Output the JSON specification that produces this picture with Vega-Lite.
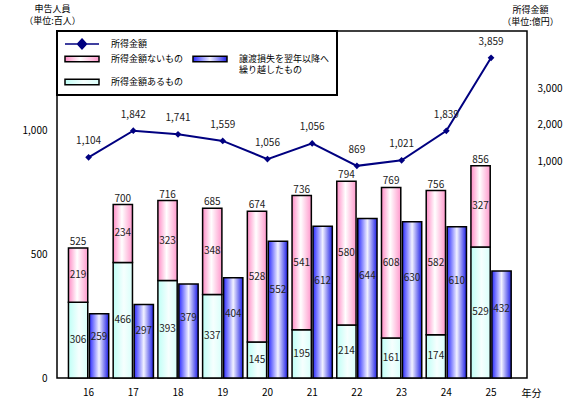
{
  "$schema": "https://vega.github.io/schema/vega-lite/v6.json",
  "width": 470,
  "height": 347,
  "autosize": {"type": "none"},
  "padding": {"left": 57, "top": 31, "right": 53, "bottom": 37},
  "background": "white",
  "config": {
    "font": "Noto Sans CJK JP",
    "view": {"stroke": "black", "strokeWidth": 1.5},
    "axis": {"grid": false, "ticks": false, "domain": false, "labelFontSize": 10, "labelColor": "black", "titleFontWeight": "normal", "titleColor": "black", "titleFontSize": 9, "titleLineHeight": 12},
    "legend": {"orient": "top-left", "offset": 0, "padding": 7, "strokeColor": "black", "strokeWidth": 2, "fillColor": "white", "columns": 2, "columnPadding": 6, "rowPadding": 1, "labelFontSize": 9, "labelOffset": 35, "labelLimit": 300, "labelColor": "black", "symbolSize": 100, "symbolStrokeWidth": 1.5}
  },
  "datasets": {
    "bars": [
      {"year": 16, "group": "A", "series": "所得金額あるもの", "value": 306},
      {"year": 16, "group": "A", "series": "所得金額ないもの", "value": 219},
      {"year": 16, "group": "B", "series": "譲渡損失を翌年以降へ繰り越したもの", "value": 259},
      {"year": 17, "group": "A", "series": "所得金額あるもの", "value": 466},
      {"year": 17, "group": "A", "series": "所得金額ないもの", "value": 234},
      {"year": 17, "group": "B", "series": "譲渡損失を翌年以降へ繰り越したもの", "value": 297},
      {"year": 18, "group": "A", "series": "所得金額あるもの", "value": 393},
      {"year": 18, "group": "A", "series": "所得金額ないもの", "value": 323},
      {"year": 18, "group": "B", "series": "譲渡損失を翌年以降へ繰り越したもの", "value": 379},
      {"year": 19, "group": "A", "series": "所得金額あるもの", "value": 337},
      {"year": 19, "group": "A", "series": "所得金額ないもの", "value": 348},
      {"year": 19, "group": "B", "series": "譲渡損失を翌年以降へ繰り越したもの", "value": 404},
      {"year": 20, "group": "A", "series": "所得金額あるもの", "value": 145},
      {"year": 20, "group": "A", "series": "所得金額ないもの", "value": 528},
      {"year": 20, "group": "B", "series": "譲渡損失を翌年以降へ繰り越したもの", "value": 552},
      {"year": 21, "group": "A", "series": "所得金額あるもの", "value": 195},
      {"year": 21, "group": "A", "series": "所得金額ないもの", "value": 541},
      {"year": 21, "group": "B", "series": "譲渡損失を翌年以降へ繰り越したもの", "value": 612},
      {"year": 22, "group": "A", "series": "所得金額あるもの", "value": 214},
      {"year": 22, "group": "A", "series": "所得金額ないもの", "value": 580},
      {"year": 22, "group": "B", "series": "譲渡損失を翌年以降へ繰り越したもの", "value": 644},
      {"year": 23, "group": "A", "series": "所得金額あるもの", "value": 161},
      {"year": 23, "group": "A", "series": "所得金額ないもの", "value": 608},
      {"year": 23, "group": "B", "series": "譲渡損失を翌年以降へ繰り越したもの", "value": 630},
      {"year": 24, "group": "A", "series": "所得金額あるもの", "value": 174},
      {"year": 24, "group": "A", "series": "所得金額ないもの", "value": 582},
      {"year": 24, "group": "B", "series": "譲渡損失を翌年以降へ繰り越したもの", "value": 610},
      {"year": 25, "group": "A", "series": "所得金額あるもの", "value": 529},
      {"year": 25, "group": "A", "series": "所得金額ないもの", "value": 327},
      {"year": 25, "group": "B", "series": "譲渡損失を翌年以降へ繰り越したもの", "value": 432}
    ],
    "totals": [
      {"year": 16, "group": "A", "total": 525},
      {"year": 17, "group": "A", "total": 700},
      {"year": 18, "group": "A", "total": 716},
      {"year": 19, "group": "A", "total": 685},
      {"year": 20, "group": "A", "total": 674},
      {"year": 21, "group": "A", "total": 736},
      {"year": 22, "group": "A", "total": 794},
      {"year": 23, "group": "A", "total": 769},
      {"year": 24, "group": "A", "total": 756},
      {"year": 25, "group": "A", "total": 856}
    ],
    "amount": [
      {"year": 16, "amount": 1104, "label": "1,104"},
      {"year": 17, "amount": 1842, "label": "1,842"},
      {"year": 18, "amount": 1741, "label": "1,741"},
      {"year": 19, "amount": 1559, "label": "1,559"},
      {"year": 20, "amount": 1056, "label": "1,056"},
      {"year": 21, "amount": 1490, "label": "1,056"},
      {"year": 22, "amount": 869, "label": "869"},
      {"year": 23, "amount": 1021, "label": "1,021"},
      {"year": 24, "amount": 1839, "label": "1,839"},
      {"year": 25, "amount": 3859, "label": "3,859"}
    ]
  },
  "layer": [
    {
      "encoding": {
        "x": {
          "field": "year", "type": "ordinal",
          "scale": {"type": "band", "paddingInner": 0.1, "paddingOuter": 0.305, "align": 0.42},
          "axis": {"labelAngle": 0, "labelPadding": 9, "title": "年分", "titleFontSize": 10, "titleX": 474, "titleY": 15, "titleAlign": "center", "titleBaseline": "middle"}
        },
        "xOffset": {"field": "group", "type": "nominal", "scale": {"paddingInner": 0.08}}
      },
      "layer": [
        {
          "data": {"name": "bars"},
          "mark": {"type": "bar", "stroke": "black", "strokeWidth": 1.5},
          "encoding": {
            "y": {
              "field": "value", "type": "quantitative", "stack": "zero",
              "scale": {"domain": [0, 1400], "nice": false},
              "axis": {"values": [0, 500, 1000], "labelExpr": "format(datum.value, ',')", "labelPadding": 10, "title": ["申告人員", "（単位:百人）"], "titleAngle": 0, "titleAlign": "center", "titleX": -5, "titleY": -18, "titleBaseline": "bottom"}
            },
            "order": {"field": "series", "sort": "ascending"},
            "fill": {
              "field": "series", "type": "nominal",
              "scale": {
                "domain": ["所得金額", "所得金額ないもの", "所得金額あるもの", " ", "譲渡損失を翌年以降へ繰り越したもの"],
                "range": [
                  "#000080",
                  {"expr": "{gradient: 'linear', x1: 0, y1: 0, x2: 1, y2: 0, stops: [{offset: 0, color: '#ff8cc6'}, {offset: 0.45, color: '#ffffff'}, {offset: 1, color: '#ff99cc'}]}"},
                  {"expr": "{gradient: 'linear', x1: 0, y1: 0, x2: 1, y2: 0, stops: [{offset: 0, color: '#bffff6'}, {offset: 0.55, color: '#f6fffe'}, {offset: 1, color: '#d9fffa'}]}"},
                  "transparent",
                  {"expr": "{gradient: 'linear', x1: 0, y1: 0, x2: 1, y2: 0, stops: [{offset: 0, color: '#2a2aff'}, {offset: 0.5, color: '#f2f2ff'}, {offset: 1, color: '#1e1ee6'}]}"}
                ]
              },
              "legend": {
                "title": null,
                "symbolType": {"expr": "datum.value === '所得金額' ? 'M-1,0H5.8M2.4,-1L3.3,0L2.4,1L1.5,0Z' : datum.value === ' ' ? 'M0,0' : 'M-1,-0.55H5.8V0.55H-1Z'"},
                "symbolStrokeColor": {"expr": "datum.value === '所得金額' ? '#000080' : datum.value === ' ' ? 'transparent' : 'black'"},
                "labelExpr": "datum.label === '譲渡損失を翌年以降へ繰り越したもの' ? ['譲渡損失を翌年以降へ', '繰り越したもの'] : datum.label === ' ' ? '' : datum.label",
                "encode": {
                  "labels": {"lineHeight": {"value": 11}}
                }
              }
            }
          }
        },
        {
          "data": {"name": "bars"},
          "transform": [{"filter": "datum.group === 'A'"}],
          "mark": {"type": "text", "fontSize": 10, "color": "#222"},
          "encoding": {
            "y": {"field": "value", "type": "quantitative", "stack": "zero", "bandPosition": 0.5},
            "detail": {"field": "series"},
            "order": {"field": "series", "sort": "ascending"},
            "text": {"field": "value", "type": "quantitative"}
          }
        },
        {
          "data": {"name": "bars"},
          "transform": [{"filter": "datum.group === 'B'"}],
          "mark": {"type": "text", "fontSize": 10, "color": "#222"},
          "encoding": {
            "y": {"field": "value", "type": "quantitative", "stack": "zero", "bandPosition": 0.64},
            "text": {"field": "value", "type": "quantitative"}
          }
        },
        {
          "data": {"name": "totals"},
          "mark": {"type": "text", "fontSize": 10, "color": "#222", "baseline": "bottom", "dy": -1},
          "encoding": {
            "y": {"field": "total", "type": "quantitative"},
            "text": {"field": "total", "type": "quantitative"}
          }
        }
      ]
    },
    {
      "data": {"name": "amount"},
      "encoding": {
        "x": {"field": "year", "type": "ordinal"},
        "y": {
          "field": "amount", "type": "quantitative",
          "scale": {"domain": [-5000, 4600], "nice": false},
          "axis": {"orient": "right", "values": [1000, 2000, 3000], "labelExpr": "format(datum.value, ',')", "labelPadding": 10, "title": ["所得金額", "（単位:億円）"], "titleAngle": 0, "titleAlign": "center", "titleX": 3, "titleY": -17, "titleBaseline": "bottom"}
        }
      },
      "layer": [
        {"mark": {"type": "line", "color": "#000080", "strokeWidth": 2}},
        {"mark": {"type": "point", "shape": "diamond", "filled": true, "size": 45, "opacity": 1}, "encoding": {"fill": {"datum": "所得金額"}}},
        {"mark": {"type": "text", "fontSize": 10, "color": "#222", "dy": -16}, "encoding": {"text": {"field": "label"}}}
      ]
    }
  ],
  "resolve": {"scale": {"y": "independent"}}
}
